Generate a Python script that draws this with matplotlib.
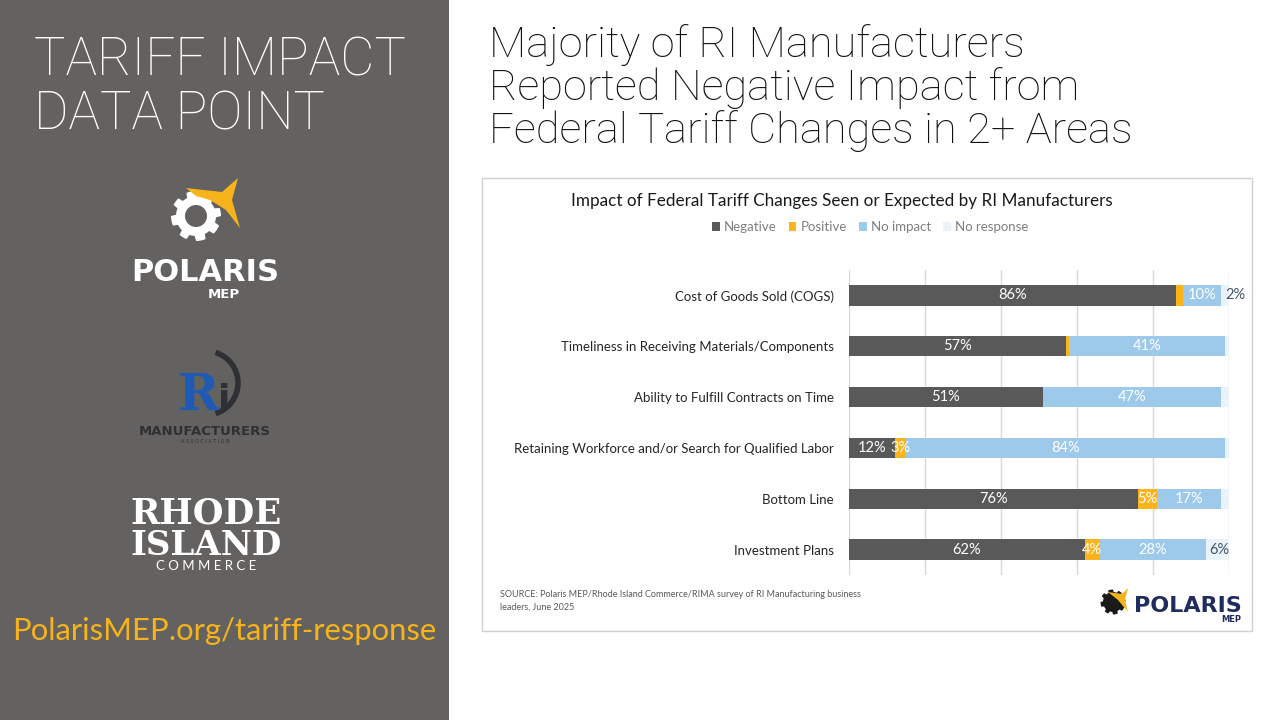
#!/usr/bin/env python3
''' Tariff impact data point: stacked bar of RI manufacturer survey
'''

import numpy as np
import matplotlib
matplotlib.use('Agg')
from matplotlib import pyplot
from matplotlib.patches import Rectangle, Polygon, Arc

#
# data
#

categories = [
    'Cost of Goods Sold (COGS)',
    'Timeliness in Receiving Materials/Components',
    'Ability to Fulfill Contracts on Time',
    'Retaining Workforce and/or Search for Qualified Labor',
    'Bottom Line',
    'Investment Plans',
]
series_names = ['Negative', 'Positive', 'No impact', 'No response']
negative = [86, 57, 51, 12, 76, 62]
positive = [2, 1, 0, 3, 5, 4]
no_impact = [10, 41, 47, 84, 17, 28]
no_response = [2, 1, 2, 1, 2, 6]
# which "no response" values carry a label in the original
no_response_shown = [True, False, False, False, False, True]

colors = ['#595959', '#FBB419', '#9DC9EA', '#EAF2FA']
panel_grey = '#646260'
gold = '#F6B31B'
navy = '#44546A'

FONT = 'Lato'
THIN = 'Roboto'

#
# helpers
#

W, H = 1280, 720

def px(x, y):
    # pixel coords (origin top-left) -> figure fraction
    return x / W, 1 - y / H

#
# figure
#

fig = pyplot.figure(figsize=(12.8, 7.2), dpi=100)
fig.patch.set_facecolor('white')

# left panel
fig.patches.append(Rectangle((0, 0), 449 / W, 1, transform=fig.transFigure,
                             facecolor=panel_grey, edgecolor='none', zorder=-2))

fig.text(*px(34, 75), 'TARIFF IMPACT', color='white', fontsize=38,
         family=THIN, weight='light', va='baseline')
fig.text(*px(34, 130), 'DATA POINT', color='white', fontsize=38,
         family=THIN, weight='light', va='baseline')

fig.text(*px(12, 640), 'PolarisMEP.org/tariff-response', color=gold,
         fontsize=22.3, family=FONT, va='baseline')

# polaris logo (rough)
ang = np.linspace(0, 2 * np.pi, 97)
rad = np.where((np.floor(ang / (2 * np.pi / 16)) % 2) == 0, 25, 20)
gx, gy = px(196, 216)
gear = Polygon(np.c_[gx + rad * np.cos(ang) / W, gy + rad * np.sin(ang) / H],
               closed=True, transform=fig.transFigure, facecolor='white',
               edgecolor='none')
fig.patches.append(gear)
hole = Polygon(np.c_[gx + 11 * np.cos(ang) / W, gy + 11 * np.sin(ang) / H],
               closed=True, transform=fig.transFigure, facecolor=panel_grey,
               edgecolor='none')
fig.patches.append(hole)
star = [px(186, 188), px(222, 192), px(238, 178), px(232, 200), px(240, 228),
        px(226, 210), px(210, 200), px(196, 196)]
fig.patches.append(Polygon(star, closed=True, transform=fig.transFigure,
                           facecolor=gold, edgecolor='none'))
fig.text(*px(205, 281), 'POLARIS', color='white', fontsize=22, weight='bold',
         family='DejaVu Sans', ha='center', va='baseline')
fig.text(*px(224, 298), 'MEP', color='white', fontsize=9.5, weight='bold',
         family='DejaVu Sans', ha='center', va='baseline')

# RI manufacturers logo (rough)
fig.text(*px(198, 410), 'R', color='#1F5BB5', fontsize=36, weight='bold',
         family='DejaVu Serif', ha='center', va='baseline')
fig.text(*px(224, 410), 'i', color='#2E3033', fontsize=26, weight='bold',
         family='DejaVu Sans', ha='center', va='baseline')
rx, ry = px(206, 383)
fig.patches.append(Arc((rx, ry), 64 / W, 64 / H, theta1=-80, theta2=80,
                       transform=fig.transFigure, color='#2E3033', lw=4))
fig.text(*px(205, 435), 'MANUFACTURERS', color='#2E3033', fontsize=9.5,
         weight='bold', family='DejaVu Sans', ha='center', va='baseline')
fig.text(*px(205, 443), 'A S S O C I A T I O N', color='#2E3033', fontsize=3.5,
         family='DejaVu Sans', ha='center', va='baseline')

# rhode island commerce logo (rough)
fig.text(*px(206, 524), 'RHODE', color='white', fontsize=25.5, weight='bold',
         family='DejaVu Serif', ha='center', va='baseline')
fig.text(*px(206, 555), 'ISLAND', color='white', fontsize=24.5, weight='bold',
         family='DejaVu Serif', ha='center', va='baseline')
fig.text(*px(206, 570), 'C O M M E R C E', color='white', fontsize=9.5,
         family=FONT, ha='center', va='baseline')

# main headline
headline = ['Majority of RI Manufacturers',
            'Reported Negative Impact from',
            'Federal Tariff Changes in 2+ Areas']
for i, line in enumerate(headline):
    fig.text(*px(489, 57 + 43 * i), line, color='#111111', fontsize=31.2,
             family=THIN, weight='light', va='baseline')

# chart frame
fig.patches.append(Rectangle(px(482, 631), 770 / W, 453 / H,
                             transform=fig.transFigure, facecolor='white',
                             edgecolor='#D0D0D0', lw=1, zorder=-1))

fig.text(*px(842, 206), 'Impact of Federal Tariff Changes Seen or Expected by RI Manufacturers',
         color='#1A1A1A', fontsize=12.3, family=FONT, ha='center', va='baseline')

#
# bars
#

left = 849
ax = fig.add_axes([left / W, 1 - 575 / H, 380 / W, 305 / H])
ax.set_facecolor('none')
y = np.arange(len(categories))
values = [negative, positive, no_impact, no_response]
starts = np.zeros(len(categories))
for k, (name, vals) in enumerate(zip(series_names, values)):
    vals = np.array(vals, dtype=float)
    ax.barh(y, vals, left=starts, height=0.4, color=colors[k], label=name,
            zorder=3)
    for i, v in enumerate(vals):
        cx = starts[i] + v / 2
        if k < 3 and v >= 3:
            ax.text(cx, y[i], '{}%'.format(int(v)), color='white',
                    fontsize=10.5, family=FONT, ha='center', va='center',
                    zorder=4)
        elif k == 3 and no_response_shown[i]:
            if v < 3:
                ax.text(starts[i] + v - 1, y[i], '{}%'.format(int(v)),
                        color=navy, fontsize=10.5, family=FONT, ha='left',
                        va='center', zorder=4)
            else:
                ax.text(cx + 0.5, y[i], '{}%'.format(int(v)), color=navy,
                        fontsize=10.5, family=FONT, ha='center', va='center',
                        zorder=4)
    starts += vals

ax.set_xlim(0, 100)
ax.set_ylim(len(categories) - 0.5, -0.5)
ax.set_xticks(np.arange(0, 101, 20))
ax.xaxis.grid(True, color='#D9D9D9', lw=1, zorder=0)
ax.tick_params(axis='x', length=0, labelbottom=False)
ax.tick_params(axis='y', length=0, pad=11)
ax.set_yticks(y)
ax.set_yticklabels(categories, fontsize=9.5, family=FONT, color='#262626')
for s in ax.spines.values():
    s.set_visible(False)

# legend
handles, labels = ax.get_legend_handles_labels()
leg = fig.legend(handles, labels, loc='center', bbox_to_anchor=px(870, 227),
                 ncol=4, frameon=False, handlelength=0.6,
                 handleheight=0.6, handletextpad=0.3, columnspacing=0.9,
                 prop={'family': FONT, 'size': 9.5})
for t in leg.get_texts():
    t.set_color('#7F7F7F')

# source
fig.text(*px(500, 597), 'SOURCE: Polaris MEP/Rhode Island Commerce/RIMA survey of RI Manufacturing business',
         color='#595959', fontsize=6.5, family=FONT, va='baseline')
fig.text(*px(500, 610), 'leaders, June 2025', color='#595959', fontsize=6.5,
         family=FONT, va='baseline')

# small polaris logo bottom right
fig.text(*px(1242, 612), 'POLARIS', color='#1F2D5C', fontsize=16,
         weight='bold', family='DejaVu Sans', ha='right', va='baseline')
fig.text(*px(1241, 622), 'MEP', color='#1F2D5C', fontsize=6, weight='bold',
         family='DejaVu Sans', ha='right', va='baseline')
bx, by = px(1113, 602)
sg = Polygon(np.c_[bx + 0.5 * rad * np.cos(ang) / W, by + 0.5 * rad * np.sin(ang) / H],
             closed=True, transform=fig.transFigure, facecolor='#1A1A1A',
             edgecolor='none')
fig.patches.append(sg)
fig.patches.append(Polygon([px(1108, 592), px(1122, 594), px(1128, 588),
                            px(1125, 600), px(1128, 612), px(1118, 600)],
                           closed=True, transform=fig.transFigure,
                           facecolor=gold, edgecolor='none'))

fig.savefig('out.png', dpi=100, facecolor=fig.get_facecolor())
